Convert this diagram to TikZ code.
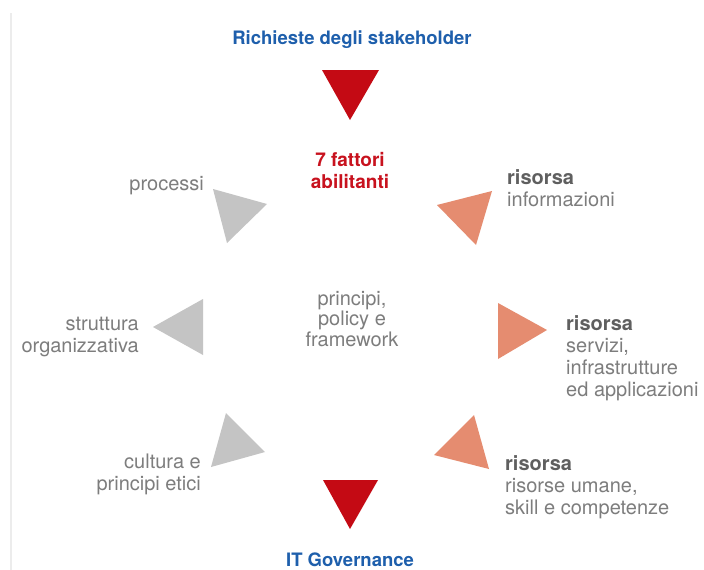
\documentclass[tikz,border=0pt]{standalone}
\usepackage{fontspec}
\setmainfont{TeX Gyre Heros}
\definecolor{tblue}{RGB}{30,95,172}
\definecolor{tred}{RGB}{200,18,30}
\definecolor{trired}{RGB}{196,10,20}
\definecolor{trigray}{RGB}{196,196,196}
\definecolor{trisalmon}{RGB}{229,140,112}
\definecolor{txtgray}{RGB}{125,125,125}
\definecolor{txtdark}{RGB}{95,95,95}
\definecolor{framegray}{RGB}{236,236,236}
\begin{document}
\begin{tikzpicture}[x=1pt,y=-1pt,
  headtxt/.style={inner sep=0pt,text=tblue,font=\fontsize{18.5}{22}\selectfont\bfseries},
  redtxt/.style={inner sep=0pt,text=tred,align=center,font=\fontsize{19}{22}\selectfont\bfseries},
  graytxt/.style={inner sep=0pt,text=txtgray,font=\fontsize{20}{22}\selectfont},
  redtri/.style={fill=trired},
  graytri/.style={fill=trigray},
  salmontri/.style={fill=trisalmon}]
\useasboundingbox[fill=white] (0,0) rectangle (704,570);
\draw[framegray,line width=2pt] (11,13) -- (11,570);
% titles
\node[headtxt,anchor=base] (top) at (352,44) {Richieste degli stakeholder};
\node[headtxt,anchor=base] (bottom) at (350,566) {IT Governance};
\node[redtxt,anchor=base] (center) at (350,188) {7 fattori\\abilitanti};
% triangles
\fill[redtri] (322,70) -- (379,70) -- (350,120) -- cycle;
\fill[redtri] (323,480) -- (378,480) -- (350,529) -- cycle;
\fill[graytri] (213,189) -- (267,204) -- (227,243) -- cycle;
\fill[graytri] (153,327) -- (203,299) -- (203,355) -- cycle;
\fill[graytri] (226,413) -- (265,452) -- (211,467) -- cycle;
\fill[salmontri] (437,205) -- (492,191) -- (476,245) -- cycle;
\fill[salmontri] (498,303) -- (547,330) -- (498,359) -- cycle;
\fill[salmontri] (434,455) -- (474,415) -- (489,469) -- cycle;
% labels
\node[graytxt,anchor=base east] (processi) at (204,190) {processi};
\node[graytxt,anchor=base east,align=right] (struttura) at (139,352) {struttura\\organizzativa};
\node[graytxt,anchor=base east,align=right] (cultura) at (201,490) {cultura e\\principi etici};
\node[graytxt,anchor=base,align=center,font=\fontsize{20}{20.5}\selectfont] (principi) at (352,346) {principi,\\policy e\\framework};
\node[graytxt,anchor=base west,align=left] (info) at (507,206) {\textcolor{txtdark}{\bfseries risorsa}\\informazioni};
\node[graytxt,anchor=base west,align=left] (servizi) at (566,396) {\textcolor{txtdark}{\bfseries risorsa}\\servizi,\\infrastrutture\\ed applicazioni};
\node[graytxt,anchor=base west,align=left] (umane) at (505,514) {\textcolor{txtdark}{\bfseries risorsa}\\risorse umane,\\skill e competenze};
\end{tikzpicture}
\end{document}
